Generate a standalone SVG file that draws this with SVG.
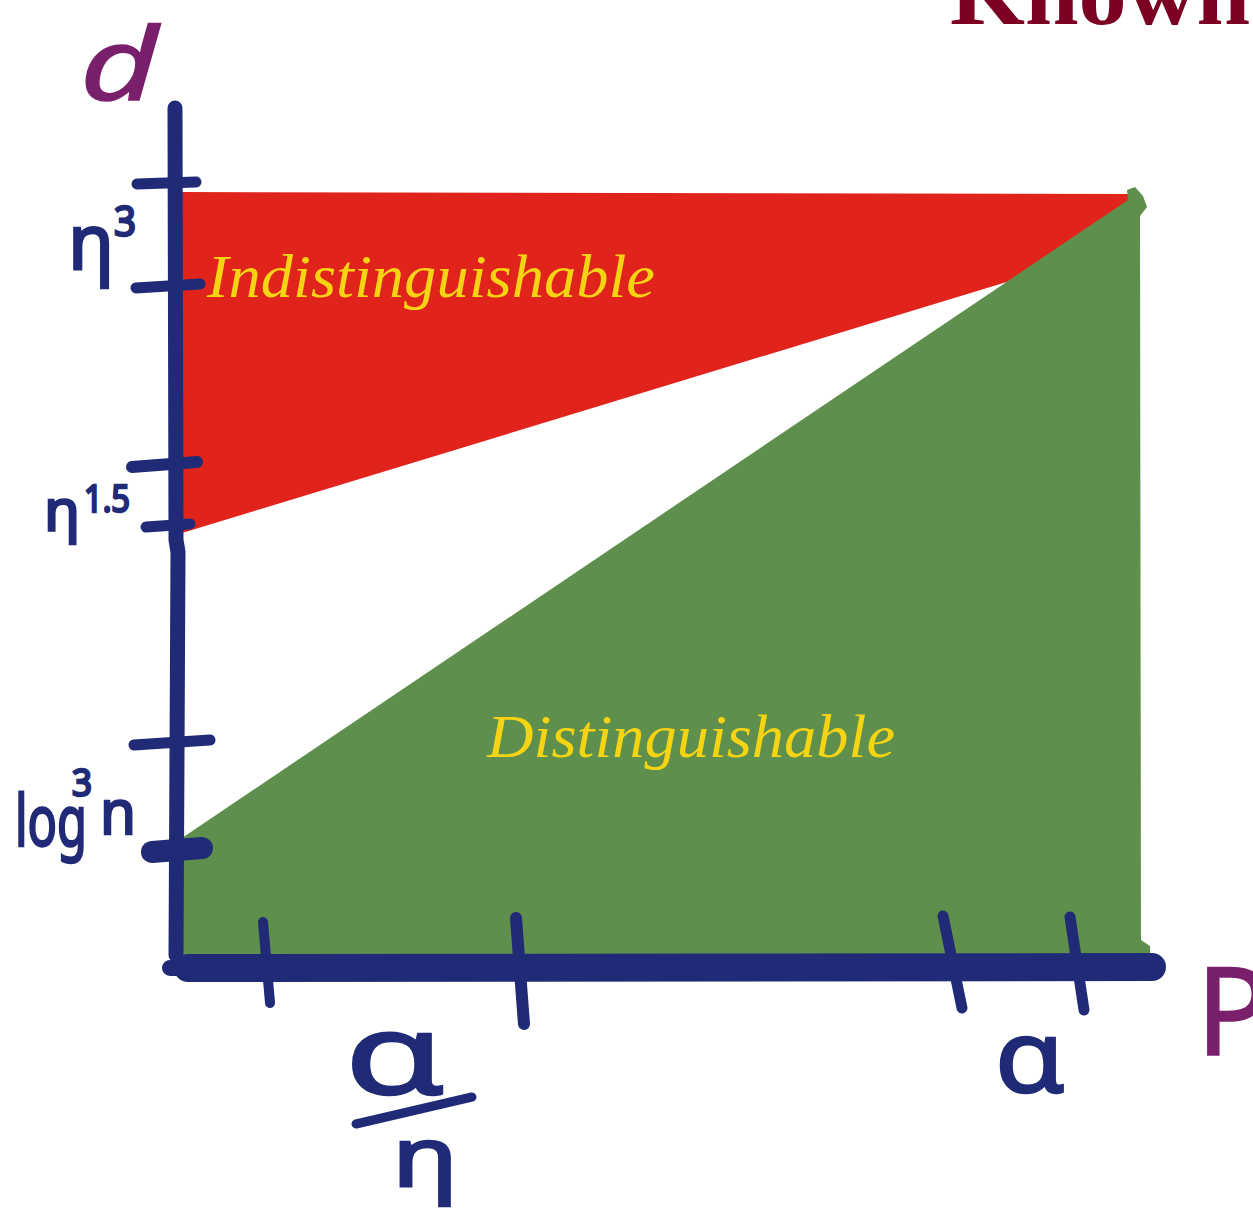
<svg xmlns="http://www.w3.org/2000/svg" width="1253" height="1215" viewBox="0 0 1253 1215">
<style>
.ink{fill:none;stroke:#212a76;stroke-linecap:round;stroke-linejoin:round}
.hw{fill:#212a76;stroke:#212a76;stroke-width:2.5;font-family:"Noto Sans","DejaVu Sans",sans-serif}
.pp{fill:#7a1f6c;stroke:#7a1f6c;stroke-width:1.5;font-family:"Noto Sans","DejaVu Sans",sans-serif}
.lbl{fill:#f6d414;font-family:"Liberation Serif",serif;font-style:italic;font-size:62px}
</style>
<rect width="1253" height="1215" fill="#ffffff"/>
<g id="title"><text x="950" y="24" font-family="Liberation Serif,serif" font-weight="bold" font-size="92" fill="#7c0022" textLength="300" lengthAdjust="spacingAndGlyphs">Known</text></g>
<g id="region-indistinguishable">
<polygon points="182,192 1132,194 1132,215 1010,281 182,533" fill="#e0241c"/>
<text class="lbl" x="207" y="297" textLength="448" lengthAdjust="spacingAndGlyphs">Indistinguishable</text>
</g>
<g id="region-distinguishable">
<path d="M182,838 L1128,200 L1127,190 L1135,187 L1143,196 L1147,207 L1140,216 L1141,940 L1150,946 L1150,955 L182,956 Z" fill="#5f8f4c"/>
<text class="lbl" x="487" y="757" textLength="408" lengthAdjust="spacingAndGlyphs">Distinguishable</text>
</g>
<g id="connectors">
<path class="ink" d="M175,108 L176,540 L178,552 L176,955" stroke-width="15"/>
<path class="ink" d="M188,968 L1152,967" stroke-width="28"/>
<path class="ink" d="M170,968 L320,969" stroke-width="16"/>
<path class="ink" d="M137,184 L196,182" stroke-width="11"/>
<path class="ink" d="M136,288 L200,284" stroke-width="11"/>
<path class="ink" d="M132,467 L197,462" stroke-width="12"/>
<path class="ink" d="M146,527 L190,524" stroke-width="11"/>
<path class="ink" d="M134,745 L210,740" stroke-width="11"/>
<path class="ink" d="M152,852 L202,848" stroke-width="22"/>
<path class="ink" d="M263,922 L270,1003" stroke-width="10"/>
<path class="ink" d="M516,918 L524,1024" stroke-width="12"/>
<path class="ink" d="M943,916 L962,1008" stroke-width="11"/>
<path class="ink" d="M1070,917 L1084,1010" stroke-width="11"/>
<path class="ink" d="M356,1124 L472,1097" stroke-width="9"/>
</g>
<g id="labels">
<text class="pp" x="80" y="100" font-family="Liberation Serif,serif" font-style="italic" font-size="100" textLength="78" lengthAdjust="spacingAndGlyphs">d</text>
<text class="hw" x="68" y="270" font-size="76" textLength="46" lengthAdjust="spacingAndGlyphs">η</text>
<text class="hw" x="114" y="236" font-size="42" textLength="22" lengthAdjust="spacingAndGlyphs">3</text>
<text class="hw" x="44" y="530" font-size="56" textLength="36" lengthAdjust="spacingAndGlyphs">η</text>
<text class="hw" x="84" y="512" font-size="38" textLength="46" lengthAdjust="spacingAndGlyphs">1.5</text>
<text class="hw" x="15" y="846" font-size="72" textLength="72" lengthAdjust="spacingAndGlyphs">log</text>
<text class="hw" x="72" y="796" font-size="38" textLength="20" lengthAdjust="spacingAndGlyphs">3</text>
<text class="hw" x="100" y="834" font-size="62" textLength="36" lengthAdjust="spacingAndGlyphs">n</text>
<text class="hw" x="345" y="1094" font-size="112" stroke-width="1" textLength="100" lengthAdjust="spacingAndGlyphs">α</text>
<text class="hw" x="392" y="1186" font-size="82" textLength="66" lengthAdjust="spacingAndGlyphs">η</text>
<text class="hw" x="995" y="1092" font-size="100" stroke-width="1" textLength="70" lengthAdjust="spacingAndGlyphs">α</text>
<text class="pp" x="1196" y="1055" font-size="122">P</text>
</g>
</svg>
